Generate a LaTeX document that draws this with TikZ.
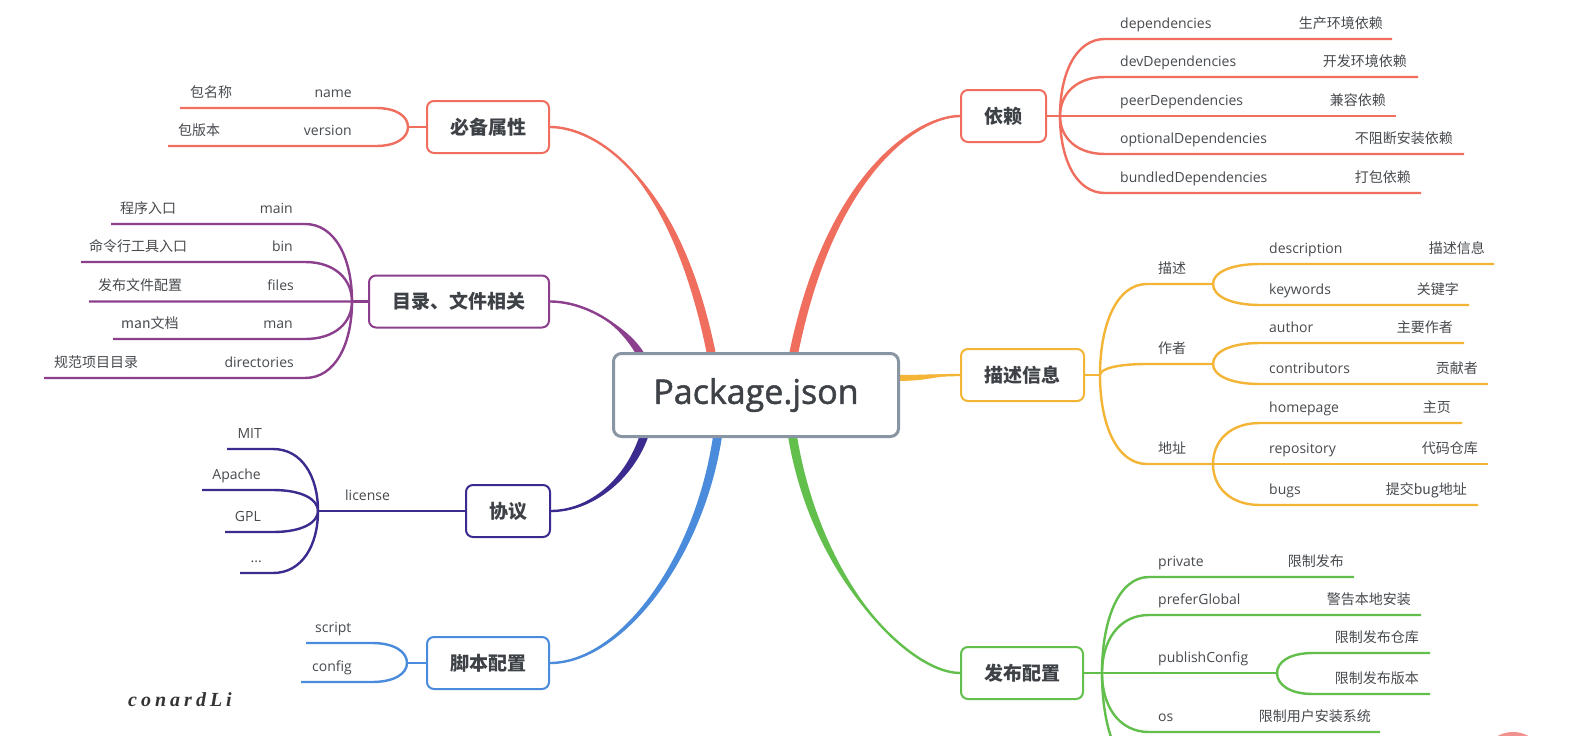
\documentclass[tikz,border=0pt]{standalone}
\usepackage{fontspec}
\setmainfont{Open Sans}
\newfontfamily\cjk{Noto Sans CJK SC}
\newfontfamily\pkgfont{Open Sans}[FakeBold=1.4]
\newfontfamily\wmfont{Liberation Serif}[LetterSpace=20]
\usetikzlibrary{calc}
\definecolor{cred}{HTML}{EF6E5E}
\definecolor{cpurple}{HTML}{8C3F8C}
\definecolor{cindigo}{HTML}{3C2B8E}
\definecolor{cblue}{HTML}{4A8CDB}
\definecolor{cgreen}{HTML}{62BF4C}
\definecolor{cyellow}{HTML}{F4B436}
\definecolor{cgray}{HTML}{8A95A3}
\definecolor{boxtxt}{HTML}{3E4247}
\definecolor{lbltxt}{HTML}{474A4E}
\definecolor{cpink}{HTML}{F39090}
\definecolor{wmtxt}{HTML}{333333}
\pgfdeclarelayer{back}
\pgfdeclarelayer{bg}
\pgfsetlayers{back,bg,main}
\tikzset{
  en/.style={inner sep=0pt, text height=10.5pt, text depth=3.5pt, font=\fontsize{14}{16}\selectfont, text=lbltxt},
  cn/.style={inner sep=0pt, text height=10.5pt, text depth=3.5pt, font=\cjk\fontsize{14}{16}\selectfont, text=lbltxt},
  topic/.style={draw, fill=white, rounded corners=7pt, line width=2pt, inner sep=0pt,
    font=\cjk\bfseries\fontsize{19}{20}\selectfont, text=boxtxt, minimum height=52pt},
  leaf/.style={line width=2.4pt},
}
\newcommand\leafline[5]{%
  \draw[leaf,#1] (#2) .. controls ($(#2)!0.55!(#2 |- #4,#3)$) and ($(#4,#3)!0.65!(#2 |- #4,#3)$) .. (#4,#3) -- (#5,#3);}
% #1 colour, #2 start, #3 control 1, #4 control 2, #5 end, #6 offset at start, #7 offset at control 2
\newcommand\taper[7]{%
  \fill[#1] ($#2+(#6)$) .. controls ($#3+(#6)$) and ($#4+(#7)$) .. #5
     .. controls ($#4-(#7)$) and ($#3-(#6)$) .. ($#2-(#6)$) -- cycle;
  \draw[#1,line width=2.4pt] #2 .. controls #3 and #4 .. #5;}
\begin{document}
\begin{tikzpicture}[x=1pt,y=-1pt]
\useasboundingbox (0,0) rectangle (1591,736);
\clip (0,0) rectangle (1591,736);
\begin{pgfonlayer}{back}
\fill[white] (0,0) rectangle (1591,736);
\end{pgfonlayer}

% central node
\node[draw=cgray, fill=white, rounded corners=8pt, line width=3pt, minimum width=285pt, minimum height=83pt,
  inner sep=0pt, font=\pkgfont\fontsize{34}{36}\selectfont, text=boxtxt] (pkg) at (756,395) {Package.json};

% main topics
\node[topic, draw=cred, minimum width=122pt] (bibei) at (488,127) {必备属性};
\node[topic, draw=cpurple, minimum width=180pt] (mulu) at (459,301.5) {目录、文件相关};
\node[topic, draw=cindigo, minimum width=84pt] (xieyi) at (508,511) {协议};
\node[topic, draw=cblue, minimum width=122pt] (jiaoben) at (488,663) {脚本配置};
\node[topic, draw=cred, minimum width=85pt] (yilai) at (1003.5,116) {依赖};
\node[topic, draw=cyellow, minimum width=123pt] (miaoshu) at (1022.5,375) {描述信息};
\node[topic, draw=cgreen, minimum width=122pt] (fabu) at (1022,673) {发布配置};

% main branches
\begin{pgfonlayer}{bg}
\taper{cred}{(712,357)}{(675,170)}{(592,127)}{(bibei.east)}{4.5,0}{0,2.8}
\taper{cred}{(793,357)}{(830,170)}{(920,116)}{(yilai.west)}{4.5,0}{0,2.8}
\taper{cpurple}{(642,357)}{(625,325)}{(585,301.5)}{(mulu.east)}{4.5,0}{0,2.5}
\taper{cindigo}{(645,433)}{(630,480)}{(590,511)}{(xieyi.east)}{4.5,0}{0,2.5}
\taper{cblue}{(718,433)}{(700,560)}{(620,663)}{(jiaoben.east)}{4.5,0}{0,2.8}
\taper{cgreen}{(792,433)}{(815,580)}{(910,673)}{(fabu.west)}{4.5,0}{0,2.8}
\taper{cyellow}{(895,378)}{(930,378)}{(930,375)}{(miaoshu.west)}{0,3}{0,1.5}
\end{pgfonlayer}

% ---- 必备属性
\coordinate (F1) at (408,127);
\draw[leaf,cred] (bibei.west) -- (F1);
\leafline{cred}{F1}{108}{376}{180}
\leafline{cred}{F1}{146}{376}{168}
\node[en,anchor=east] (nameEn) at (352,94) {name};
\node[cn,anchor=west] (nameCn) at (190,94) {包名称};
\node[en,anchor=east] (verEn) at (352,132) {version};
\node[cn,anchor=west] (verCn) at (178,132) {包版本};

% ---- 目录、文件相关
\coordinate (F2) at (352,301.5);
\draw[leaf,cpurple] (mulu.west) -- (F2);
\leafline{cpurple}{F2}{224}{305}{111}
\leafline{cpurple}{F2}{262}{305}{81}
\leafline{cpurple}{F2}{301.5}{305}{89}
\leafline{cpurple}{F2}{339}{305}{113}
\leafline{cpurple}{F2}{378}{305}{44}
\node[en,anchor=east] (mainEn) at (293,210) {main};
\node[cn,anchor=west] (mainCn) at (120,210) {程序入口};
\node[en,anchor=east] (binEn) at (293,248) {bin};
\node[cn,anchor=west] (binCn) at (89,248) {命令行工具入口};
\node[en,anchor=east] (filesEn) at (294,287) {files};
\node[cn,anchor=west] (filesCn) at (98,287) {发布文件配置};
\node[en,anchor=east] (manEn) at (293,325) {man};
\node[cn,anchor=west] (manCn) at (121,325) {man文档};
\node[en,anchor=east] (dirEn) at (294,364) {directories};
\node[cn,anchor=west] (dirCn) at (54,364) {规范项目目录};

% ---- 协议
\coordinate (F3) at (318,511);
\draw[leaf,cindigo] (xieyi.west) -- (F3);
\node[en,anchor=west] (lic) at (345,497) {license};
\leafline{cindigo}{F3}{449}{273}{227}
\leafline{cindigo}{F3}{490}{273}{202}
\leafline{cindigo}{F3}{532}{273}{225}
\leafline{cindigo}{F3}{573}{273}{240}
\node[en,anchor=east] (mit) at (262,435) {MIT};
\node[en,anchor=east] (apache) at (261,476) {Apache};
\node[en,anchor=east] (gpl) at (261,518) {GPL};
\node[en,anchor=east] (etc) at (262,559) {...};

% ---- 脚本配置
\coordinate (F4) at (407,663);
\draw[leaf,cblue] (jiaoben.west) -- (F4);
\leafline{cblue}{F4}{643}{372}{306}
\leafline{cblue}{F4}{682}{372}{301}
\node[en,anchor=west] (script) at (315,629) {script};
\node[en,anchor=west] (config) at (312,668) {config};

% ---- 依赖
\coordinate (F5) at (1060,116);
\draw[leaf,cred] (yilai.east) -- (F5);
\leafline{cred}{F5}{39}{1105}{1392}
\leafline{cred}{F5}{77}{1105}{1418}
\leafline{cred}{F5}{116}{1105}{1396}
\leafline{cred}{F5}{154}{1105}{1464}
\leafline{cred}{F5}{193}{1105}{1421}
\node[en,anchor=west] (d1e) at (1120,25) {dependencies};
\node[cn,anchor=east] (d1c) at (1383,25) {生产环境依赖};
\node[en,anchor=west] (d2e) at (1120,63) {devDependencies};
\node[cn,anchor=east] (d2c) at (1407,63) {开发环境依赖};
\node[en,anchor=west] (d3e) at (1120,102) {peerDependencies};
\node[cn,anchor=east] (d3c) at (1386,102) {兼容依赖};
\node[en,anchor=west] (d4e) at (1120,140) {optionalDependencies};
\node[cn,anchor=east] (d4c) at (1453,140) {不阻断安装依赖};
\node[en,anchor=west] (d5e) at (1120,179) {bundledDependencies};
\node[cn,anchor=east] (d5c) at (1411,179) {打包依赖};

% ---- 描述信息
\coordinate (F6) at (1100,375);
\draw[leaf,cyellow] (miaoshu.east) -- (F6);
\leafline{cyellow}{F6}{284}{1147}{1213}
\leafline{cyellow}{F6}{364}{1147}{1213}
\leafline{cyellow}{F6}{464}{1147}{1213}
\coordinate (S1) at (1213,284);
\coordinate (S2) at (1213,364);
\coordinate (S3) at (1213,464);
\node[cn,anchor=west] (ms1) at (1158,270) {描述};
\node[cn,anchor=west] (ms2) at (1158,350) {作者};
\node[cn,anchor=west] (ms3) at (1158,450) {地址};
\leafline{cyellow}{S1}{264}{1260}{1494}
\leafline{cyellow}{S1}{305}{1260}{1469}
\leafline{cyellow}{S2}{343}{1260}{1464}
\leafline{cyellow}{S2}{384}{1260}{1488}
\leafline{cyellow}{S3}{423}{1260}{1462}
\leafline{cyellow}{S3}{464}{1260}{1488}
\leafline{cyellow}{S3}{505}{1260}{1478}
\node[en,anchor=west] (m1e) at (1269,250) {description};
\node[cn,anchor=east] (m1c) at (1485,250) {描述信息};
\node[en,anchor=west] (m2e) at (1269,291) {keywords};
\node[cn,anchor=east] (m2c) at (1459,291) {关键字};
\node[en,anchor=west] (m3e) at (1269,329) {author};
\node[cn,anchor=east] (m3c) at (1453,329) {主要作者};
\node[en,anchor=west] (m4e) at (1269,370) {contributors};
\node[cn,anchor=east] (m4c) at (1478,370) {贡献者};
\node[en,anchor=west] (m5e) at (1269,409) {homepage};
\node[cn,anchor=east] (m5c) at (1451,409) {主页};
\node[en,anchor=west] (m6e) at (1269,450) {repository};
\node[cn,anchor=east] (m6c) at (1478,450) {代码仓库};
\node[en,anchor=west] (m7e) at (1269,491) {bugs};
\node[cn,anchor=east] (m7c) at (1467,491) {提交bug地址};

% ---- 发布配置
\coordinate (F7) at (1102,673);
\draw[leaf,cgreen] (fabu.east) -- (F7);
\leafline{cgreen}{F7}{577}{1149}{1354}
\leafline{cgreen}{F7}{615}{1149}{1421}
\leafline{cgreen}{F7}{673}{1149}{1277}
\leafline{cgreen}{F7}{732}{1149}{1380}
\leafline{cgreen}{F7}{775}{1149}{1400}
\coordinate (S4) at (1277,673);
\leafline{cgreen}{S4}{653}{1313}{1430}
\leafline{cgreen}{S4}{694}{1313}{1430}
\node[en,anchor=west] (p1e) at (1158,563) {private};
\node[cn,anchor=east] (p1c) at (1344,563) {限制发布};
\node[en,anchor=west] (p2e) at (1158,601) {preferGlobal};
\node[cn,anchor=east] (p2c) at (1411,601) {警告本地安装};
\node[en,anchor=west] (p3e) at (1158,659) {publishConfig};
\node[cn,anchor=east] (p3a) at (1419,639) {限制发布仓库};
\node[cn,anchor=east] (p3b) at (1419,680) {限制发布版本};
\node[en,anchor=west] (p4e) at (1158,718) {os};
\node[cn,anchor=east] (p4c) at (1371,718) {限制用户安装系统};

% watermark and stray button
\node[font=\wmfont\bfseries\itshape\fontsize{20}{20}\selectfont, text=wmtxt] (wm) at (180,700) {conardLi};
\fill[cpink] (1513,764) circle (32pt);
\end{tikzpicture}
\end{document}
